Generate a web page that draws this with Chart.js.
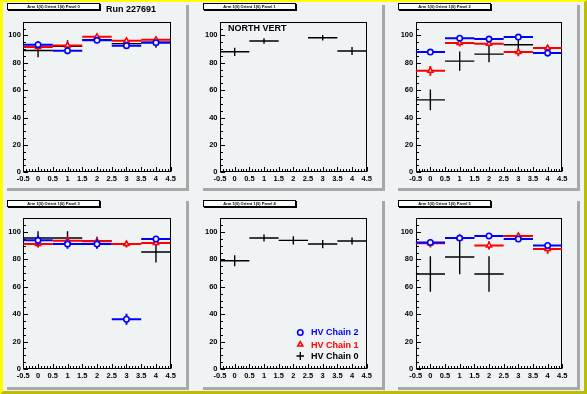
<!DOCTYPE html>
<html>
<head>
<meta charset="utf-8">
<script src="https://cdn.jsdelivr.net/npm/chart.js@4/dist/chart.umd.min.js"></script>
<style>
body{margin:0;width:587px;height:394px;overflow:hidden;background:#eff3f4;font-family:"Liberation Sans",Arial,sans-serif;}
#cv{position:absolute;left:0;top:0;width:587px;height:394px;box-sizing:border-box;
  border-left:3px solid #ffff00;border-top:2px solid #ffff00;border-right:3px solid #bcbc00;border-bottom:3px solid #bcbc00;}
.pad{position:absolute;width:182px;background:#eff3f4;box-shadow:3px 3px 0 #a8a8a8;}
.pad canvas{position:absolute;left:0;top:0;}
.ptitle{position:absolute;left:3px;width:91px;height:5px;background:#fbfcfc;border:1px solid #000;box-shadow:1px 1px 0 #000;
  font-size:4px;line-height:5px;text-align:center;font-weight:bold;white-space:nowrap;overflow:hidden;}
.lbl{position:absolute;font-weight:bold;font-size:9px;line-height:9px;white-space:nowrap;}
</style>
</head>
<body>
<div id="cv"></div>
<div id="pads"></div>
<div class="lbl" style="left:106px;top:4.8px;">Run 227691</div>
<div class="lbl" style="left:228px;top:23.8px;">NORTH VERT</div>
<div class="lbl" style="left:311px;top:328px;color:#0000ff;">HV Chain 2</div>
<div class="lbl" style="left:311px;top:340.5px;color:#ff0000;">HV Chain 1</div>
<div class="lbl" style="left:311px;top:351.5px;color:#000;">HV Chain 0</div>
<script>
//================================ DATA =================================//
var xBins = [0, 1, 2, 3, 4];
var xHalfWidth = 0.5;
var xTicks = [-0.5, 0, 0.5, 1, 1.5, 2, 2.5, 3, 3.5, 4, 4.5];
var yTicks = [0, 20, 40, 60, 80, 100];
var seriesNames = ["HV Chain 2", "HV Chain 1", "HV Chain 0"];
var panelTitles = ["Arm 1(0) Orient 1(0) Panel 0", "Arm 1(0) Orient 1(0) Panel 1", "Arm 1(0) Orient 1(0) Panel 2",
                   "Arm 1(0) Orient 1(0) Panel 3", "Arm 1(0) Orient 1(0) Panel 4", "Arm 1(0) Orient 1(0) Panel 5"];

// one row per panel, one value per bin (null = empty bin)
var chain2Val = [
  [93.2, 88.8, 96.4, 92.5, 94.7],
  [null, null, null, null, null],
  [87.8, 98.0, 97.3, 98.8, 87.1],
  [93.9, 91.2, 91.2, 36.3, 94.9],
  [null, null, null, null, null],
  [92.4, 95.6, 97.1, 94.9, 90.2]
];
var chain2Err = [
  [2.5, 2.5, 2, 2, 2],
  [0, 0, 0, 0, 0],
  [2, 1.5, 1.5, 1.5, 2.5],
  [3.5, 3.5, 3.5, 4, 2],
  [0, 0, 0, 0, 0],
  [2.5, 2, 1.5, 2, 2]
];
var chain1Val = [
  [91.5, 92.7, 99.0, 96.0, 96.8],
  [null, null, null, null, null],
  [74.1, 94.4, 93.9, 87.8, 90.7],
  [91.2, 93.7, 93.2, 91.2, 92.0],
  [null, null, null, null, null],
  [91.7, 95.6, 90.2, 97.1, 87.6]
];
var chain1Err = [
  [2, 2.5, 2, 2, 2],
  [0, 0, 0, 0, 0],
  [3.5, 2.5, 2, 3, 2],
  [2.5, 3, 2, 2.5, 2],
  [0, 0, 0, 0, 0],
  [3, 2, 3, 2, 3.5]
];
var chain0Val = [
  [89.0, 92.0, 96.8, 94.0, 95.0],
  [88.0, 95.9, null, 98.3, 88.6],
  [52.9, 81.2, 86.3, 93.2, null],
  [95.6, 95.6, 93.5, null, 85.4],
  [79.0, 95.6, 93.9, 91.2, 93.4],
  [69.3, 81.7, 69.3, null, null]
];
var chain0Err = [
  [5, 4.4, 2, 3, 4],
  [3, 2, 0, 2, 3],
  [7.5, 7, 6, 3.7, 0],
  [5, 5, 3, 0, 7.7],
  [4, 2.5, 3, 3, 2.5],
  [13, 12.5, 13, 0, 0]
];

//================================ LAYOUT ===============================//
var padLeft = [4, 200, 395];
var padTop = [2, 198];
var padH = [186, 189];
var padW = 182;
var frameL = [23.3, 220, 415.7];
var frameR = [170.7, 366.7, 562.3];
var frameT = [21.7, 218.3];
var frameB = [172.3, 369];
var bg = "#eff3f4";

function points(vals, errs){
  var out = [];
  for(var i = 0; i < xBins.length; i++){
    if(vals[i] !== null) out.push({x: xBins[i], y: vals[i], e: errs[i]});
  }
  return out;
}

// error bars drawn just before each dataset's markers
var errorBars = {
  id: "errorBars",
  beforeDatasetDraw: function(chart, args){
    var ds = chart.data.datasets[args.index];
    var xs = chart.scales.x, ys = chart.scales.y, ctx = chart.ctx, a = chart.chartArea;
    ctx.save();
    ctx.beginPath();
    ctx.rect(a.left, a.top, a.right - a.left, a.bottom - a.top);
    ctx.clip();
    ctx.strokeStyle = ds.borderColor;
    ctx.lineWidth = ds.barWidth;
    ctx.beginPath();
    ds.data.forEach(function(p){
      var px = xs.getPixelForValue(p.x), py = ys.getPixelForValue(p.y);
      ctx.moveTo(xs.getPixelForValue(p.x - xHalfWidth), py);
      ctx.lineTo(xs.getPixelForValue(p.x + xHalfWidth), py);
      if(p.e > 0){
        ctx.moveTo(px, ys.getPixelForValue(p.y + p.e));
        ctx.lineTo(px, ys.getPixelForValue(p.y - p.e));
      }
    });
    ctx.stroke();
    ctx.restore();
  }
};

// root style frame with inward ticks
var rootFrame = {
  id: "rootFrame",
  beforeDatasetsDraw: function(chart){
    var ctx = chart.ctx, a = chart.chartArea, xs = chart.scales.x, ys = chart.scales.y;
    var l = Math.round(a.left) + 0.5, r = Math.round(a.right) - 0.5;
    var t = Math.round(a.top) + 0.5, b = Math.round(a.bottom) - 0.5;
    ctx.save();
    ctx.strokeStyle = "#000";
    ctx.lineWidth = 1;
    ctx.strokeRect(l, t, r - l, b - t);
    ctx.beginPath();
    for(var v = 0; v <= 110; v += 5){
      var y = Math.round(ys.getPixelForValue(v)) + 0.5;
      var len = (v % 20 === 0) ? 4.5 : 2.5;
      ctx.moveTo(l, y); ctx.lineTo(l + len, y);
    }
    for(var k = 0; k <= 50; k++){
      var xv = -0.5 + k * 0.1;
      var x = Math.round(xs.getPixelForValue(xv)) + 0.5;
      var ln = (k % 5 === 0) ? 4.5 : 2.5;
      ctx.moveTo(x, b); ctx.lineTo(x, b - ln);
    }
    ctx.stroke();
    ctx.restore();
  }
};

// legend markers in panel 4
var legendMarks = {
  id: "legendMarks",
  afterDraw: function(chart){
    if(chart.options.plugins.legendMarks.show !== true) return;
    var ctx = chart.ctx;
    var dsets = chart.data.datasets;
    var ys = [134.5, 146.5, 158];
    ctx.save();
    for(var i = 0; i < 3; i++){
      var d = dsets[i];
      ctx.strokeStyle = d.borderColor;
      ctx.fillStyle = bg;
      ctx.lineWidth = d.borderWidth;
      if(d.pointRadius > 0){
        Chart.helpers.drawPoint(ctx, {pointStyle: d.pointStyle, radius: d.pointRadius, borderWidth: d.borderWidth, rotation: 0}, 100.3, ys[i]);
      }else{
        ctx.lineWidth = 1.3;
        ctx.beginPath();
        ctx.moveTo(96.5, ys[i]); ctx.lineTo(104, ys[i]);
        ctx.moveTo(100.3, ys[i] - 4); ctx.lineTo(100.3, ys[i] + 4);
        ctx.stroke();
      }
    }
    ctx.restore();
  }
};

var tickFont = {family: "'Liberation Sans', Arial, sans-serif", size: 7.5, weight: "bold"};
function plainLabel(v){ return String(v); }

for(var p = 0; p < 6; p++){
  var c = p % 3, r = Math.floor(p / 3);
  var pad = document.createElement("div");
  pad.className = "pad";
  pad.style.left = padLeft[c] + "px";
  pad.style.top = padTop[r] + "px";
  pad.style.height = padH[r] + "px";
  var cnv = document.createElement("canvas");
  cnv.width = padW; cnv.height = padH[r];
  cnv.style.width = padW + "px"; cnv.style.height = padH[r] + "px";
  pad.appendChild(cnv);
  var tt = document.createElement("div");
  tt.className = "ptitle";
  tt.style.top = (r === 0 ? 1 : 2) + "px";
  tt.textContent = panelTitles[p];
  pad.appendChild(tt);
  document.getElementById("pads").appendChild(pad);

  var yW = frameL[c] - padLeft[c];
  var rightPad = padLeft[c] + padW - frameR[c];
  var topPad = frameT[r] - padTop[r];
  var xH = padTop[r] + padH[r] - frameB[r];

  new Chart(cnv, {
    type: "scatter",
    data: {
      datasets: [{
        label: seriesNames[0],
        data: points(chain2Val[p], chain2Err[p]),
        borderColor: "#0000ff",
        backgroundColor: bg,
        pointStyle: "circle",
        pointRadius: 2.7,
        borderWidth: 1.6,
        barWidth: 2
      },{
        label: seriesNames[1],
        data: points(chain1Val[p], chain1Err[p]),
        borderColor: "#ff0000",
        backgroundColor: bg,
        pointStyle: "triangle",
        pointRadius: 3,
        borderWidth: 1.5,
        barWidth: 2
      },{
        label: seriesNames[2],
        data: points(chain0Val[p], chain0Err[p]),
        borderColor: "#000000",
        backgroundColor: "#000000",
        pointRadius: 0,
        borderWidth: 1,
        barWidth: 1.4
      }]
    },
    options: {
      responsive: false,
      animation: false,
      events: [],
      layout: {padding: {left: 0, top: topPad, right: rightPad, bottom: 0}},
      plugins: {legend: {display: false}, tooltip: {enabled: false}, legendMarks: {show: p === 4}},
      scales: {
        x: {
          type: "linear", min: -0.5, max: 4.5,
          grid: {display: false, drawTicks: false},
          border: {display: false},
          afterBuildTicks: function(s){ s.ticks = xTicks.map(function(v){ return {value: v}; }); },
          afterFit: (function(h){ return function(s){ s.height = h; }; })(xH),
          ticks: {autoSkip: false, maxRotation: 0, color: "#000", font: tickFont, padding: 2.5, callback: plainLabel}
        },
        y: {
          type: "linear", min: 0, max: 110,
          grid: {display: false, drawTicks: false},
          border: {display: false},
          afterBuildTicks: function(s){ s.ticks = yTicks.map(function(v){ return {value: v}; }); },
          afterFit: (function(w){ return function(s){ s.width = w; }; })(yW),
          ticks: {color: "#000", font: tickFont, padding: 2.5, callback: plainLabel}
        }
      }
    },
    plugins: [rootFrame, errorBars, legendMarks]
  });
}
</script>
</body>
</html>
